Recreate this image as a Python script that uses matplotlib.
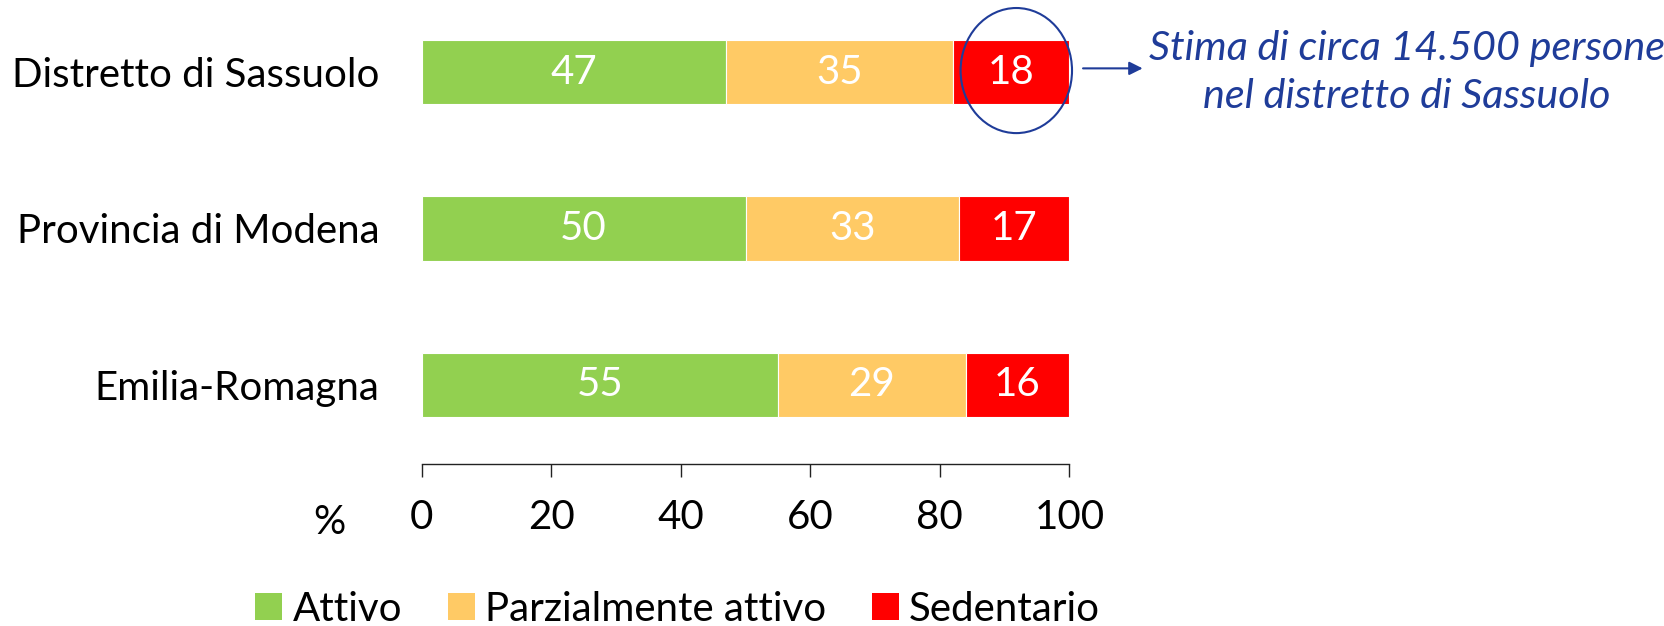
import matplotlib
matplotlib.use("Agg")
import matplotlib.pyplot as plt
from matplotlib.patches import Ellipse, Patch

categories = ["Distretto di Sassuolo", "Provincia di Modena", "Emilia-Romagna"]
attivo = [47, 50, 55]
parziale = [35, 33, 29]
sedentario = [18, 17, 16]
series_names = ["Attivo", "Parzialmente attivo", "Sedentario"]
colors = ["#92D050", "#FFCA65", "#FF0000"]
xticks = [0, 20, 40, 60, 80, 100]
note_lines = ["Stima di circa 14.500 persone", "nel distretto di Sassuolo"]

plt.rcParams['font.family'] = ['Lato', 'DejaVu Sans']
FS = 29

fig = plt.figure(figsize=(16.65, 6.26), dpi=100)
ax = fig.add_axes([0.2532, 0.2588, 0.3891, 0.7384])

ypos = list(range(len(categories)))
left = [0] * len(categories)
for vals, col, name in zip([attivo, parziale, sedentario], colors, series_names):
    ax.barh(ypos, vals, left=left, height=0.41, color=col,
            edgecolor="white", linewidth=0.8, label=name)
    for y, l, v in zip(ypos, left, vals):
        ax.text(l + v / 2, y, f"{v}", ha="center", va="center",
                color="white", fontsize=FS)
    left = [a + b for a, b in zip(left, vals)]

ax.set_xlim(0, 100)
ax.set_ylim(2.506, -0.45)
ax.set_xticks(xticks)
ax.set_xticklabels([str(t) for t in xticks], fontsize=FS)
ax.set_yticks(ypos)
ax.set_yticklabels(categories, fontsize=FS)
ax.tick_params(axis="y", left=False, pad=27)
ax.tick_params(axis="x", direction="out", length=9, width=1, color="#222222", pad=16)
for s in ["top", "right", "left"]:
    ax.spines[s].set_visible(False)
ax.spines["bottom"].set_color("#222222")
ax.spines["bottom"].set_linewidth(1)

# annotation
blue = "#1F3C99"
ell = Ellipse((91.8, -0.01), 17.2, 0.80, fill=False, edgecolor=blue, linewidth=1.5,
              clip_on=False)
ax.add_patch(ell)
ax.annotate("", xy=(111.3, -0.024), xytext=(102.1, -0.024),
            arrowprops=dict(arrowstyle="-|>", color=blue, lw=1.5,
                            mutation_scale=20, shrinkA=0, shrinkB=0),
            annotation_clip=False)
for line, base in zip(note_lines, [60, 108]):
    fig.text(1407 / 1665, 1 - base / 626, line, ha="center", va="baseline",
             color=blue, fontsize=29.8, style="italic")

fig.text(329 / 1665, 1 - 522 / 626, "%", ha="center", va="center", fontsize=FS)

handles = [Patch(facecolor=c, edgecolor="none") for c in colors]
fig.legend(handles, series_names, loc="center", bbox_to_anchor=(0.407, 0.027),
           ncol=3, frameon=False, fontsize=FS, handlelength=0.67, handleheight=0.67,
           handletextpad=0.25, columnspacing=1.14, borderpad=0.1)

fig.savefig("out.png", dpi=100)
